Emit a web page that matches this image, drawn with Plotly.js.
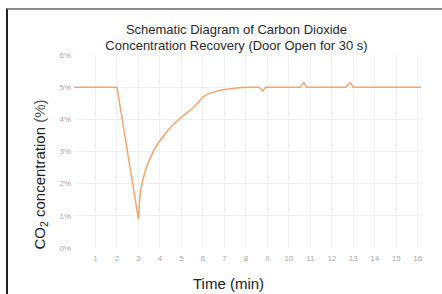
<!DOCTYPE html>
<html>
<head>
<meta charset="utf-8">
<script src="https://cdn.plot.ly/plotly-3.0.1.min.js"></script>
<style>
html,body{margin:0;padding:0;background:#fff;}
#wrap{position:relative;width:442px;height:294px;overflow:hidden;}
#frame{position:absolute;left:6px;top:8px;width:440px;height:290px;border-top:2px solid #8a8a8a;border-left:2px solid #222;box-sizing:border-box;pointer-events:none;z-index:5;}
#chart{position:absolute;left:0;top:0;width:442px;height:294px;}
</style>
</head>
<body>
<div id="wrap"><div id="chart"></div><div id="frame"></div></div>
<script>
var timeMin = [0, 2, 3, 3.03, 3.07, 3.12, 3.2, 3.3, 3.42, 3.56, 3.72, 3.9, 4.1, 4.3, 4.5, 4.75, 5.0, 5.25, 5.5, 5.75, 6.0, 6.3, 6.6, 7.0, 7.4, 7.8, 8.2, 8.6, 8.78, 8.92, 10.53, 10.69, 10.85, 12.64, 12.86, 13.0, 16.15];
var co2Pct  = [5, 5, 0.9, 1.3, 1.62, 1.88, 2.12, 2.36, 2.6, 2.83, 3.04, 3.24, 3.43, 3.6, 3.76, 3.93, 4.07, 4.2, 4.33, 4.5, 4.7, 4.8, 4.87, 4.93, 4.97, 4.99, 5.0, 5.0, 4.88, 5.0, 5.0, 5.14, 5.0, 5.0, 5.14, 5.0, 5.0];
var xTickVals = [1,2,3,4,5,6,7,8,9,10,11,12,13,14,15,16];
var xTickText = ["1","2","3","4","5","6","7","8","9","10","11","12","13","14","15","16"];
var yTickVals = [0,1,2,3,4,5,6];
var yTickText = ["0%","1%","2%","3%","4%","5%","6%"];
var titleText = "Schematic Diagram of Carbon Dioxide<br>Concentration Recovery (Door Open for 30 s)";
var xTitle = "Time (min)";
var yTitle = "CO<sub>2</sub> concentration <span style=\"color:#555\">(%)</span>";

var trace = {
  x: timeMin, y: co2Pct, type: 'scatter', mode: 'lines',
  line: {color: '#f5a46c', width: 1.5}, hoverinfo: 'skip'
};
var tickFont = {family: 'Liberation Sans, Arial, sans-serif', size: 8, color: '#a8a8a8'};
var layout = {
  width: 442, height: 294,
  margin: {l: 73.5, r: 21.3, t: 55, b: 46},
  paper_bgcolor: '#fff', plot_bgcolor: '#fff',
  showlegend: false,
  title: {
    text: titleText, xref: 'container', yref: 'container',
    x: 0.535, xanchor: 'center', y: 1 - 33.5/294, yanchor: 'middle',
    font: {family: 'Liberation Sans, Arial, sans-serif', size: 13, color: '#2a2a2a'}
  },
  xaxis: {
    range: [0, 16.15], tickvals: xTickVals, ticktext: xTickText,
    showgrid: true, gridcolor: '#f0f0f0', gridwidth: 1, zeroline: false,
    showline: false, ticks: '', tickfont: tickFont, ticklabelstandoff: 4
  },
  yaxis: {
    range: [0, 6], tickvals: yTickVals, ticktext: yTickText,
    showgrid: true, gridcolor: '#f0f0f0', gridwidth: 1, zeroline: false,
    showline: false, ticks: '', tickfont: tickFont, ticklabelstandoff: 2
  },
  annotations: [
    {text: xTitle, xref: 'paper', yref: 'paper', x: (228-73.5)/347.2, y: -(283-248)/193,
     xanchor: 'center', yanchor: 'middle', showarrow: false,
     font: {family: 'Liberation Sans, Arial, sans-serif', size: 15, color: '#222'}},
    {text: yTitle, xref: 'paper', yref: 'paper', x: (39-73.5)/347.2, y: (248-175)/193,
     xanchor: 'center', yanchor: 'middle', showarrow: false, textangle: -90,
     font: {family: 'Liberation Sans, Arial, sans-serif', size: 15, color: '#222'}}
  ]
};
Plotly.newPlot('chart', [trace], layout, {staticPlot: true, displayModeBar: false});
</script>
</body>
</html>
